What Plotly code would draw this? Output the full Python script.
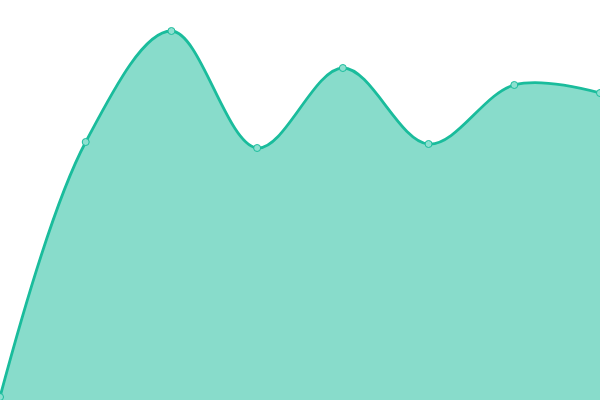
import plotly.graph_objects as go

x_vals = [0, 1, 2, 3, 4, 5, 6, 7]
y_vals = [3, 258, 369, 252, 332, 256, 315, 307]

fig = go.Figure()
fig.add_trace(go.Scatter(
    x=x_vals, y=y_vals,
    mode="lines+markers",
    line=dict(color="#1abc9c", width=2.8, shape="spline"),
    marker=dict(size=7, color="#8de0d0", line=dict(color="#1abc9c", width=1)),
    fill="tozeroy",
    fillcolor="rgba(26,188,156,0.52)",
    cliponaxis=False,
))

fig.update_layout(
    margin=dict(l=0, r=0, t=0, b=0),
    plot_bgcolor="white",
    paper_bgcolor="white",
    showlegend=False,
    xaxis=dict(visible=False, range=[0, 7]),
    yaxis=dict(visible=False, range=[0, 400]),
)

# body margin off so the chart fills the whole window
fig.write_html(
    "out.html",
    config={"displayModeBar": False},
    default_width="100vw",
    default_height="100vh",
    post_script="document.body.style.margin='0';document.body.style.overflow='hidden';window.dispatchEvent(new Event('resize'));",
)
